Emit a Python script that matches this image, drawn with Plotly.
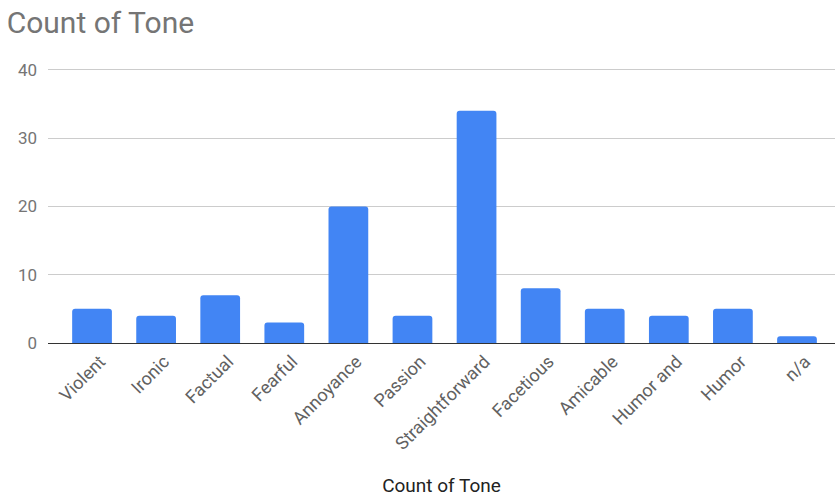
import plotly.graph_objects as go

categories = ["Violent", "Ironic", "Factual", "Fearful", "Annoyance", "Passion",
              "Straightforward", "Facetious", "Amicable", "Humor and", "Humor", "n/a"]
counts = [5, 4, 7, 3, 20, 4, 34, 8, 5, 4, 5, 1]
y_ticks = [0, 10, 20, 30, 40]

fig = go.Figure(go.Bar(
    x=list(range(len(categories))), y=counts,
    marker=dict(color="#4285F4", line=dict(width=0)),
    width=0.62,
))

fig.update_layout(
    width=836, height=497,
    margin=dict(l=48, r=1, t=63, b=154),
    paper_bgcolor="white", plot_bgcolor="white",
    font=dict(family="Roboto, Arial, sans-serif", color="#757575"),
    title=dict(text="Count of Tone", x=0.008, xanchor="left", y=0.955, yanchor="middle",
               font=dict(size=30, color="#757575")),
    barcornerradius=3,
    showlegend=False,
)
fig.update_xaxes(
    tickmode="array", tickvals=list(range(len(categories))), ticktext=categories,
    range=[-0.687, 11.593], tickangle=-45, showgrid=False, zeroline=False,
    showline=True, linecolor="#333333", linewidth=1, ticks="",
    ticklabelshift=8,
    tickfont=dict(size=18, color="#616161"),
    title=dict(text="Count of Tone", font=dict(size=19, color="#222222"), standoff=27),
)
fig.update_yaxes(
    range=[0, 41], tickvals=y_ticks, showgrid=True, gridcolor="#cccccc",
    zeroline=False, showline=False, ticks="", ticklabelstandoff=10,
    tickfont=dict(size=17, color="#757575"),
)
fig.write_html("out.html")
